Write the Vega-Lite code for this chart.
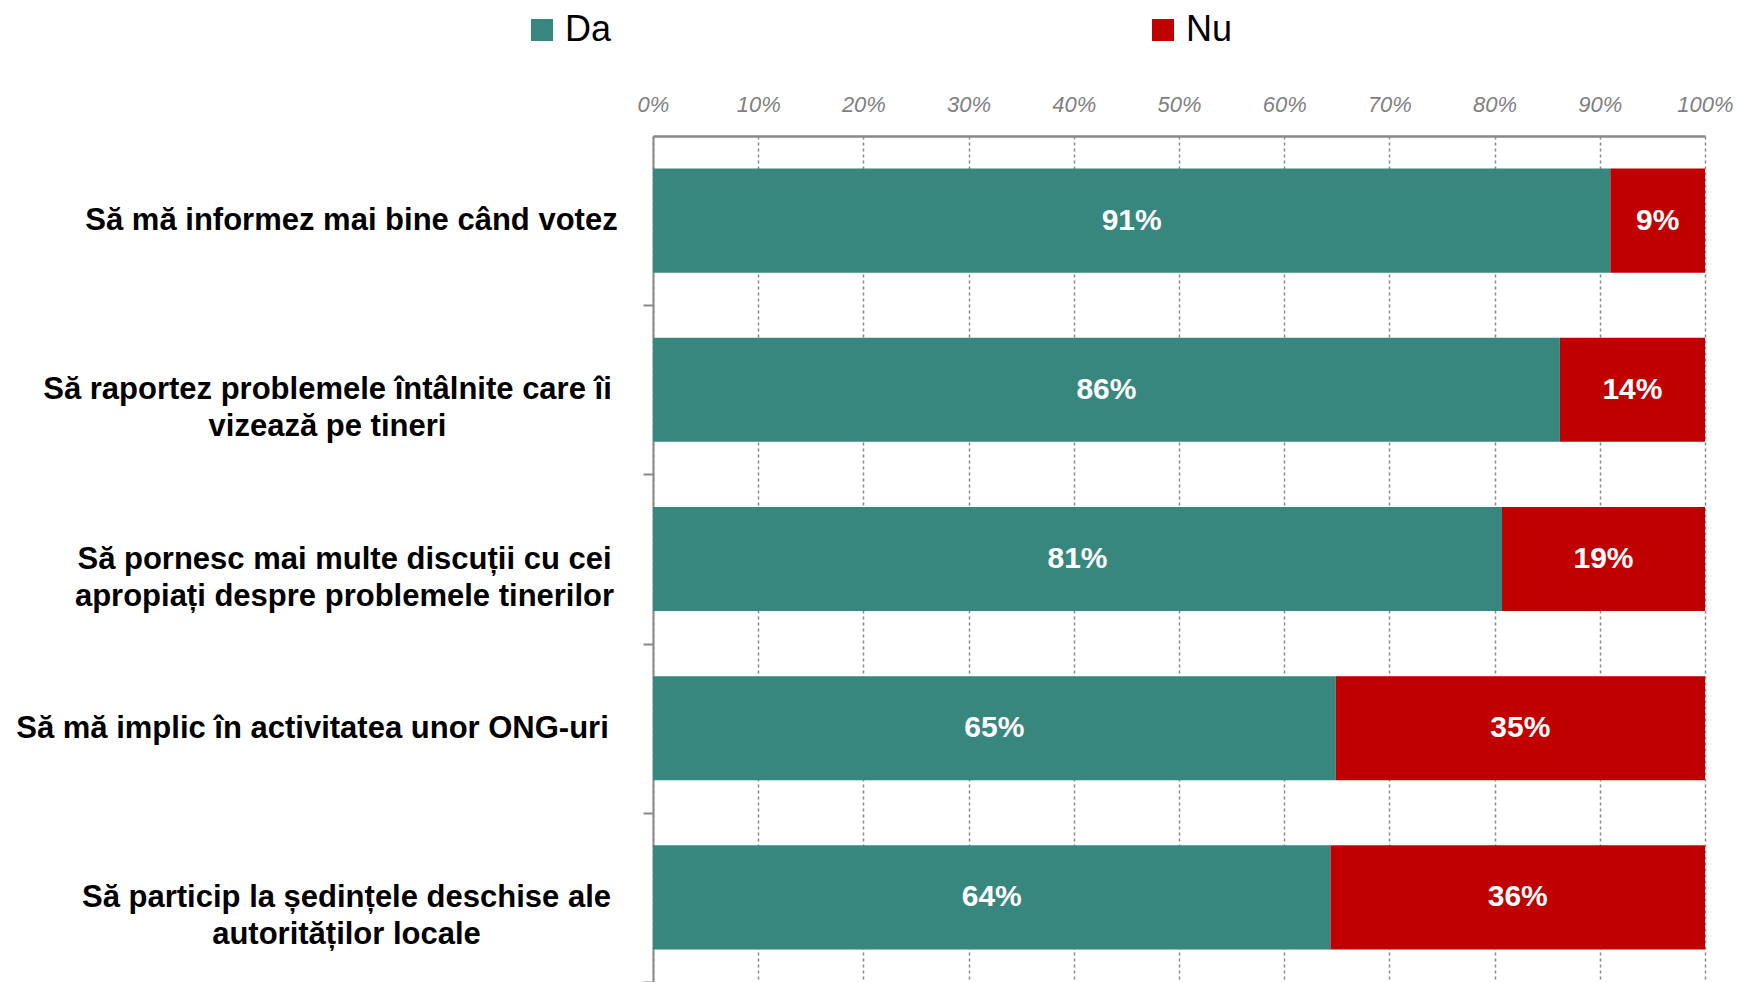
{
  "$schema": "https://vega.github.io/schema/vega-lite/v6.json",
  "width": 1052,
  "height": 846,
  "autosize": "none",
  "padding": {"left": 653, "top": 136, "right": 33, "bottom": 0},
  "background": "white",
  "config": {"view": {"stroke": null}, "font": "Liberation Sans"},
  "data": {
    "values": [
      {"q": "Să mă informez mai bine când votez", "answer": "Da", "value": 0.91},
      {"q": "Să mă informez mai bine când votez", "answer": "Nu", "value": 0.09},
      {"q": "Să raportez problemele întâlnite care îi\nvizează pe tineri", "answer": "Da", "value": 0.862},
      {"q": "Să raportez problemele întâlnite care îi\nvizează pe tineri", "answer": "Nu", "value": 0.138},
      {"q": "Să pornesc mai multe discuții cu cei\napropiați despre problemele tinerilor", "answer": "Da", "value": 0.807},
      {"q": "Să pornesc mai multe discuții cu cei\napropiați despre problemele tinerilor", "answer": "Nu", "value": 0.193},
      {"q": "Să mă implic în activitatea unor ONG-uri", "answer": "Da", "value": 0.649},
      {"q": "Să mă implic în activitatea unor ONG-uri", "answer": "Nu", "value": 0.351},
      {"q": "Să particip la ședințele deschise ale\nautorităților locale", "answer": "Da", "value": 0.644},
      {"q": "Să particip la ședințele deschise ale\nautorităților locale", "answer": "Nu", "value": 0.356}
    ]
  },
  "layer": [
    {
      "mark": {"type": "bar"},
      "encoding": {
        "y": {
          "field": "q", "type": "nominal", "sort": null,
          "scale": {"paddingInner": 0.385, "paddingOuter": 0.1925},
          "axis": {
            "title": null,
            "domainColor": "#898989", "domainWidth": 2,
            "tickColor": "#898989", "tickSize": 10, "tickWidth": 2, "tickOffset": 84.5,
            "labelOffset": -84.5,
            "labelFontSize": 31, "labelFontWeight": "bold", "labelColor": "#000000",
            "labelLineHeight": 37, "labelAlign": "center", "labelLimit": 0,
            "labelExpr": "split(datum.label, '\\n')",
            "labelPadding": {
              "condition": [
                {"test": "indexof(datum.value, 'informez') >= 0", "value": 292},
                {"test": "indexof(datum.value, 'raportez') >= 0", "value": 316},
                {"test": "indexof(datum.value, 'pornesc') >= 0", "value": 299},
                {"test": "indexof(datum.value, 'implic') >= 0", "value": 331}
              ],
              "value": 297
            }
          }
        },
        "x": {
          "field": "value", "type": "quantitative", "stack": "zero",
          "scale": {"domain": [0, 1]},
          "axis": {
            "orient": "top", "title": null, "format": ".0%",
            "values": [0, 0.1, 0.2, 0.3, 0.4, 0.5, 0.6, 0.7, 0.8, 0.9, 1],
            "labelFontStyle": "italic", "labelColor": "#7f7f7f", "labelFontSize": 22,
            "labelPadding": 20, "labelFlush": false, "ticks": false,
            "domainColor": "#898989", "domainWidth": 2.5,
            "grid": true, "gridColor": "#888888", "gridDash": [3, 3], "gridWidth": 1.5
          }
        },
        "color": {
          "field": "answer", "type": "nominal",
          "scale": {"domain": ["Da", "Nu"], "range": ["#37877F", "#C00000"]},
          "legend": {
            "orient": "none", "legendX": -129, "legendY": -124,
            "direction": "horizontal", "title": null,
            "symbolType": "square", "symbolSize": 484, "symbolStrokeWidth": 0, "symbolOpacity": 1,
            "labelFontSize": 36, "labelColor": "#000000", "labelOffset": 5,
            "columnPadding": 533
          }
        },
        "order": {"field": "answer", "type": "nominal", "sort": "ascending"}
      }
    },
    {
      "mark": {"type": "text", "color": "white", "fontWeight": "bold", "fontSize": 30},
      "encoding": {
        "y": {"field": "q", "type": "nominal", "sort": null},
        "x": {"field": "value", "type": "quantitative", "stack": "zero", "bandPosition": 0.5},
        "detail": {"field": "answer", "type": "nominal"},
        "order": {"field": "answer", "type": "nominal", "sort": "ascending"},
        "text": {"field": "value", "type": "quantitative", "format": ".0%"}
      }
    }
  ]
}
